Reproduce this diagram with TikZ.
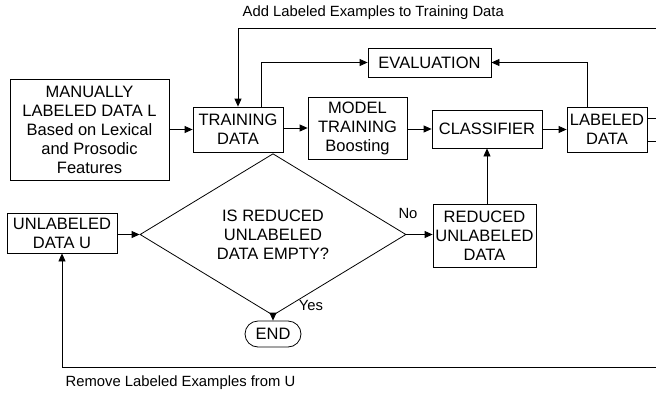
\documentclass[tikz,border=0pt]{standalone}
\usepackage{fontspec}
\setmainfont{Liberation Sans}
\usetikzlibrary{arrows.meta, positioning, shapes.geometric, shapes.misc}
\tikzset{
  every picture/.style={line width=0.8pt},
  box/.style={draw, rectangle, align=center, inner sep=2pt, font=\fontsize{16.5}{19}\selectfont},
  arrow/.style={-{Triangle[length=8pt, width=7pt]}},
  note/.style={font=\fontsize{14.8}{17}\selectfont},
}

\begin{document}
\begin{tikzpicture}[x=1pt, y=-1pt]
  \useasboundingbox (0,0) rectangle (656,397);
  % training row
  \node[box, minimum width=159pt, minimum height=101pt] (manual) at (89.5,129.5) {MANUALLY\\LABELED DATA L\\Based on Lexical\\and Prosodic\\Features};
  \node[box, minimum width=90pt, minimum height=45pt] (train) at (238,129.5) {TRAINING\\DATA};
  \node[box, minimum width=99pt, minimum height=62pt] (model) at (357.5,128) {MODEL\\TRAINING\\Boosting};
  \node[box, minimum width=110pt, minimum height=38pt] (classif) at (487,129) {CLASSIFIER};
  \node[box, minimum width=80pt, minimum height=45pt] (labeled) at (607,129.5) {LABELED\\DATA};
  \node[box, minimum width=123pt, minimum height=29pt] (eval) at (429.5,62.5) {EVALUATION};
  \draw[arrow] (manual.east |- train.west) -- (train.west);
  \draw[arrow] (train.east |- model.west) -- (model.west);
  \draw[arrow] (model.east |- classif.west) -- (classif.west);
  \draw[arrow] (classif.east |- labeled.west) -- (labeled.west);
  \draw[arrow] ([xshift=23pt]train.north) |- (eval.west);
  \draw[arrow] ([xshift=-20pt]labeled.north) |- (eval.east);
  % unlabeled row
  \node[box, minimum width=110pt, minimum height=40pt] (unlab) at (62,233) {UNLABELED\\DATA U};
  \node[box, diamond, inner sep=0pt, minimum width=266pt, minimum height=123pt] (quest) at (273,234.5) {IS REDUCED\\UNLABELED\\DATA EMPTY?};
  \node[box, minimum width=103pt, minimum height=63pt] (reduced) at (484.5,235.5) {REDUCED\\UNLABELED\\DATA};
  \node[box, rounded rectangle, minimum width=60pt, minimum height=26pt] (stop) at (273,334) {END};
  \draw[arrow] (unlab.east |- quest.west) -- (quest.west);
  \draw[arrow] (quest.east) -- (reduced.west |- quest.east);
  \draw[arrow] (quest.south) -- (stop.north);
  \draw[arrow] (reduced.north -| classif.south) -- (classif.south);
  \node[note] (no) at (408,213) {No};
  \node[note] (yes) at (311,305) {Yes};
  % loops leaving on the right
  \coordinate (outA) at (660,118);
  \coordinate (outB) at (660,141);
  \coordinate (topin) at (660,28);
  \coordinate (botin) at (660,367);
  \draw ([yshift=11.5pt]labeled.east) -- (outA);
  \draw ([yshift=-11.5pt]labeled.east) -- (outB);
  \draw[arrow] (topin) -| (train.north);
  \draw[arrow] (botin) -| (unlab.south);
  \node[note, anchor=west] (addlab) at (239,13) {Add Labeled Examples to Training Data};
  \node[note, anchor=west] (remlab) at (62,383) {Remove Labeled Examples from U};
\end{tikzpicture}
\end{document}
